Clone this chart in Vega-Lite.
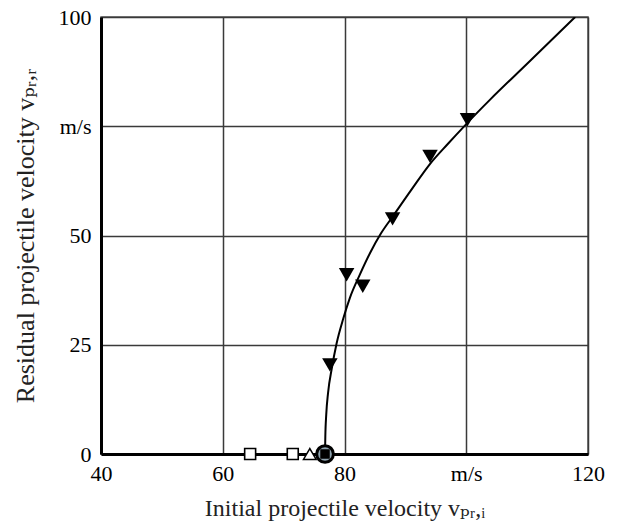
{
  "$schema": "https://vega.github.io/schema/vega-lite/v6.json",
  "width": 487,
  "height": 437,
  "autosize": {"type": "none"},
  "padding": {"left": 101, "top": 17, "right": 29, "bottom": 68},
  "background": "white",
  "config": {
    "view": {"stroke": "#555555", "strokeWidth": 1.5},
    "font": "Liberation Serif",
    "axis": {
      "grid": true,
      "gridColor": "#3a3a3a",
      "gridWidth": 1.5,
      "gridOpacity": 1,
      "ticks": false,
      "domainColor": "black",
      "domainWidth": 3,
      "labelFont": "Liberation Serif",
      "labelFontSize": 22,
      "labelColor": "black",
      "labelFlush": false,
      "labelOverlap": false,
      "labelBound": false,
      "titleFont": "Liberation Serif, DejaVu Serif",
      "titleFontWeight": "normal",
      "titleColor": "#222222",
      "zindex": 0
    }
  },
  "datasets": {
    "curve": [
      {"vi": 76.8, "vr": 0},
      {"vi": 76.85, "vr": 4},
      {"vi": 77.0, "vr": 9},
      {"vi": 77.3, "vr": 14},
      {"vi": 77.9, "vr": 19.5},
      {"vi": 78.7, "vr": 25.3},
      {"vi": 79.8, "vr": 31},
      {"vi": 80.9, "vr": 35.8},
      {"vi": 82.5, "vr": 41},
      {"vi": 84.2, "vr": 46},
      {"vi": 86.0, "vr": 50.5},
      {"vi": 88.0, "vr": 54.5},
      {"vi": 91.0, "vr": 60.5},
      {"vi": 94.0, "vr": 66.3},
      {"vi": 97.0, "vr": 71.0},
      {"vi": 100.0, "vr": 75.5},
      {"vi": 104.0, "vr": 81.2},
      {"vi": 110.0, "vr": 89.3},
      {"vi": 117.9, "vr": 100}
    ],
    "perforated": [
      {"vi": 77.6, "vr": 20.4},
      {"vi": 80.35, "vr": 41.0},
      {"vi": 83.0, "vr": 38.4},
      {"vi": 87.9, "vr": 53.8},
      {"vi": 94.05, "vr": 68.1},
      {"vi": 100.2, "vr": 76.5}
    ],
    "stuck": [
      {"vi": 64.5, "vr": 0},
      {"vi": 71.5, "vr": 0}
    ],
    "rebound": [
      {"vi": 74.3, "vr": 0}
    ],
    "limit": [
      {"vi": 76.8, "vr": 0}
    ]
  },
  "layer": [
    {
      "data": {"name": "curve"},
      "mark": {"type": "line", "color": "black", "strokeWidth": 2, "interpolate": "monotone", "clip": true},
      "encoding": {
        "x": {
          "field": "vi",
          "type": "quantitative",
          "scale": {"domain": [40, 120], "nice": false, "zero": false},
          "axis": {
            "values": [40, 60, 80, 100, 120],
            "labelExpr": "datum.value == 100 ? 'm/s' : datum.label",
            "title": "Initial projectile velocity vₚᵣ,ᵢ",
            "titleFontSize": 24,
            "labelPadding": 9,
            "titlePadding": 12
          }
        },
        "y": {
          "field": "vr",
          "type": "quantitative",
          "scale": {"domain": [0, 100], "nice": false},
          "axis": {
            "values": [0, 25, 50, 75, 100],
            "labelExpr": "datum.value == 75 ? 'm/s' : datum.label",
            "title": "Residual projectile velocity vₚᵣ,ᵣ",
            "titleFontSize": 26,
            "labelPadding": 10,
            "titlePadding": 20
          }
        }
      }
    },
    {
      "data": {"name": "perforated"},
      "mark": {"type": "point", "shape": "triangle-down", "filled": true, "color": "black", "size": 240, "opacity": 1},
      "encoding": {
        "x": {"field": "vi", "type": "quantitative"},
        "y": {"field": "vr", "type": "quantitative"}
      }
    },
    {
      "data": {"name": "stuck"},
      "mark": {"type": "point", "shape": "square", "filled": true, "fill": "white", "stroke": "black", "strokeWidth": 1.6, "size": 120, "opacity": 1, "clip": false},
      "encoding": {
        "x": {"field": "vi", "type": "quantitative"},
        "y": {"field": "vr", "type": "quantitative"}
      }
    },
    {
      "data": {"name": "rebound"},
      "mark": {"type": "point", "shape": "triangle-up", "filled": true, "fill": "white", "stroke": "black", "strokeWidth": 1.5, "size": 160, "opacity": 1, "clip": false},
      "encoding": {
        "x": {"field": "vi", "type": "quantitative"},
        "y": {"field": "vr", "type": "quantitative"}
      }
    },
    {
      "data": {"name": "limit"},
      "mark": {"type": "point", "shape": "circle", "filled": true, "fill": "#8fa3af", "stroke": "black", "strokeWidth": 3, "size": 280, "opacity": 1, "clip": false},
      "encoding": {
        "x": {"field": "vi", "type": "quantitative"},
        "y": {"field": "vr", "type": "quantitative"}
      }
    },
    {
      "data": {"name": "limit"},
      "mark": {"type": "point", "shape": "square", "filled": true, "color": "black", "size": 90, "opacity": 1, "clip": false},
      "encoding": {
        "x": {"field": "vi", "type": "quantitative"},
        "y": {"field": "vr", "type": "quantitative"}
      }
    }
  ]
}
